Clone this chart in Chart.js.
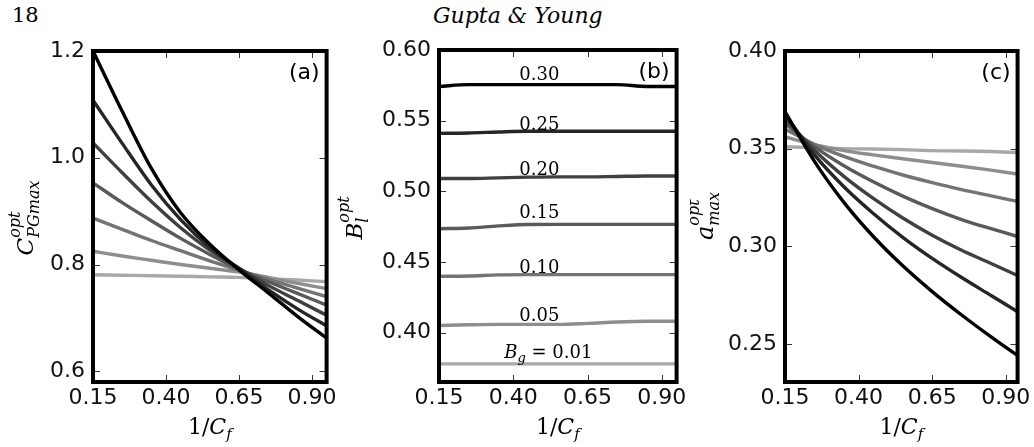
<!DOCTYPE html>
<html><head><meta charset="utf-8">
<script src="https://cdn.jsdelivr.net/npm/chart.js@4.4.1/dist/chart.umd.min.js"></script>
<style>
html,body{margin:0;padding:0;background:#fff;}
body{width:1034px;height:447px;position:relative;overflow:hidden;}
canvas{position:absolute;top:0;}
.hdr{position:absolute;top:5px;line-height:21px;color:#000;white-space:nowrap;}
</style></head><body>
<div class="hdr" style="left:12px;font:21px 'DejaVu Serif';line-height:21px">18</div>
<div class="hdr" style="left:433px;font:italic 22px 'DejaVu Serif';line-height:21px">Gupta &amp; Young</div>
<canvas id="ca" width="340" height="447" style="left:0px"></canvas>
<canvas id="cb" width="355" height="447" style="left:335px"></canvas>
<canvas id="cc" width="344" height="447" style="left:690px"></canvas>
<script>
// ---- data ----
const bgLevels = ['0.01','0.05','0.10','0.15','0.20','0.25','0.30'];
const lineColors = ['#a8a8a8','#8e8e8e','#747474','#5a5a5a','#404040','#262626','#000000'];
const xTickVals = [0.15,0.40,0.65,0.90];

// panel (a): C_PGmax^opt vs 1/C_f
const xA = [0.15,0.25,0.35,0.45,0.55,0.65,0.75,0.85,0.95];
const cpg001 = [0.781,0.780,0.779,0.778,0.777,0.776,0.773,0.771,0.768];
const cpg005 = [0.825,0.816,0.808,0.800,0.793,0.786,0.776,0.765,0.755];
const cpg010 = [0.887,0.866,0.845,0.826,0.807,0.789,0.772,0.756,0.740];
const cpg015 = [0.953,0.916,0.882,0.849,0.819,0.791,0.768,0.746,0.724];
const cpg020 = [1.028,0.972,0.918,0.869,0.827,0.793,0.761,0.733,0.705];
const cpg025 = [1.108,1.027,0.949,0.884,0.832,0.793,0.753,0.717,0.685];
const cpg030 = [1.200,1.087,0.980,0.897,0.838,0.790,0.747,0.703,0.662];
const yTicksA = [0.6,0.8,1.0,1.2];

// panel (b): B_l^opt vs 1/C_f
const xB = [0.15,0.25,0.35,0.45,0.55,0.65,0.75,0.85,0.95];
const bl001 = [0.3778,0.3778,0.3778,0.3778,0.3778,0.3778,0.3778,0.3778,0.3778];
const bl005 = [0.4050,0.4055,0.4058,0.4058,0.4058,0.4065,0.4075,0.4080,0.4080];
const bl010 = [0.4398,0.4400,0.4408,0.4410,0.4410,0.4410,0.4410,0.4410,0.4410];
const bl015 = [0.4735,0.4740,0.4755,0.4765,0.4766,0.4766,0.4766,0.4766,0.4766];
const bl020 = [0.5090,0.5090,0.5095,0.5100,0.5102,0.5102,0.5105,0.5108,0.5108];
const bl025 = [0.5410,0.5413,0.5420,0.5425,0.5425,0.5425,0.5425,0.5425,0.5425];
const bl030 = [0.5742,0.5755,0.5755,0.5755,0.5755,0.5755,0.5755,0.5742,0.5742];
const yTicksB = [0.40,0.45,0.50,0.55,0.60];
const labelTextsB = ['0.01','0.05','0.10','0.15','0.20','0.25','0.30'];
const labelXB = [0.518,0.488,0.488,0.488,0.488,0.488,0.488];
const labelYB = [0.3822,0.4079,0.4425,0.4810,0.5116,0.5434,0.5788];

// panel (c): a_max^opt vs 1/C_f
const xC = [0.15,0.25,0.35,0.45,0.55,0.65,0.75,0.85,0.94];
const am001 = [0.3510,0.3505,0.3500,0.3498,0.3495,0.3490,0.3488,0.3485,0.3480];
const am005 = [0.3560,0.3520,0.3490,0.3468,0.3448,0.3429,0.3410,0.3390,0.3370];
const am010 = [0.3600,0.3522,0.3460,0.3410,0.3365,0.3326,0.3290,0.3258,0.3230];
const am015 = [0.3630,0.3510,0.3412,0.3330,0.3257,0.3193,0.3137,0.3090,0.3050];
const am020 = [0.3655,0.3492,0.3358,0.3245,0.3145,0.3057,0.2980,0.2912,0.2850];
const am025 = [0.3675,0.3468,0.3305,0.3168,0.3046,0.2938,0.2840,0.2748,0.2665];
const am030 = [0.3690,0.3435,0.3225,0.3050,0.2900,0.2768,0.2648,0.2536,0.2440];
const yTicksC = [0.25,0.30,0.35,0.40];

// ---- drawing helpers ----
const SERIF = "'DejaVu Serif'";
function drawParts(ctx, parts, cx, by, rot) {
  ctx.save();
  let x = 0, prevStart = 0; const segs = [];
  for (const p of parts) {
    ctx.font = p.f;
    const pw = ctx.measureText(p.t).width;
    let sx;
    if (p.same) { sx = prevStart; x = Math.max(x, sx + pw); }
    else { sx = x; prevStart = sx; x = sx + pw; }
    segs.push({p, sx});
  }
  const total = x;
  ctx.translate(cx, by);
  if (rot) ctx.rotate(-Math.PI/2);
  ctx.textAlign = 'left'; ctx.textBaseline = 'alphabetic'; ctx.fillStyle = '#000';
  for (const s of segs) { ctx.font = s.p.f; ctx.fillText(s.p.t, s.sx - total/2 + (s.p.dx||0), s.p.dy||0); }
  ctx.restore();
}

const xTitleParts = [
  {t:'1/', f:'22px '+SERIF},
  {t:'C', f:'italic 22px '+SERIF},
  {t:'f', f:'italic 15px '+SERIF, dy:5}
];

function panelPlugin(cfg) {
  return {
    id: 'panel_'+cfg.id,
    afterDraw(chart) {
      const ctx = chart.ctx, a = chart.chartArea;
      const xs = chart.scales.x, ys = chart.scales.y;
      ctx.save();
      // inward ticks on all sides
      ctx.strokeStyle = '#333'; ctx.lineWidth = 1;
      ctx.beginPath();
      for (const v of xTickVals) {
        const px = Math.round(xs.getPixelForValue(v)) + 0.5;
        ctx.moveTo(px, a.top); ctx.lineTo(px, a.top + 7);
        ctx.moveTo(px, a.bottom); ctx.lineTo(px, a.bottom - 7);
      }
      for (const v of cfg.yTicks) {
        const py = Math.round(ys.getPixelForValue(v)) + 0.5;
        ctx.moveTo(a.left, py); ctx.lineTo(a.left + 7, py);
        ctx.moveTo(a.right, py); ctx.lineTo(a.right - 7, py);
      }
      ctx.stroke();
      // frame
      ctx.strokeStyle = '#000'; ctx.lineWidth = 4;
      ctx.strokeRect(a.left, a.top, a.right - a.left, a.bottom - a.top);
      // panel letter
      ctx.fillStyle = '#000'; ctx.font = "22px 'DejaVu Sans'";
      ctx.textAlign = 'right'; ctx.textBaseline = 'alphabetic';
      ctx.fillText(cfg.letter, a.right - 7, a.top + 28);
      ctx.restore();
      // x title
      drawParts(ctx, xTitleParts, (a.left + a.right)/2, 434, false);
      // y title
      drawParts(ctx, cfg.yTitle, cfg.yTitleX, cfg.yTitleY, true);
      // in-plot labels
      if (cfg.labels) cfg.labels(ctx, xs, ys);
    }
  };
}

function makeChart(cfg) {
  const datasets = cfg.series.map((s, i) => ({
    label: 'B_g = ' + bgLevels[i],
    data: cfg.x.map((xv, j) => ({x: xv, y: s[j]})),
    borderColor: lineColors[i],
    borderWidth: 3.4,
    pointRadius: 0,
    fill: false,
    cubicInterpolationMode: 'monotone',
    order: 6 - i
  }));
  return new Chart(document.getElementById(cfg.id), {
    type: 'line',
    data: {datasets},
    options: {
      responsive: false, animation: false, events: [],
      layout: {padding: {left: 0, right: cfg.padR, top: cfg.padT, bottom: 0}},
      plugins: {legend: {display: false}, tooltip: {enabled: false}},
      scales: {
        x: {
          type: 'linear', min: 0.15, max: cfg.xmax,
          grid: {display: false, drawTicks: false}, border: {display: false},
          afterBuildTicks: s => { s.ticks = xTickVals.map(v => ({value: v})); },
          afterFit: s => { s.height = 65; },
          ticks: {font: {family: 'DejaVu Sans', size: 22}, color: '#111', padding: 3,
                  maxRotation: 0, autoSkip: false, callback: v => Number(v).toFixed(2)}
        },
        y: {
          type: 'linear', min: cfg.ymin, max: cfg.ymax,
          grid: {display: false, drawTicks: false}, border: {display: false},
          afterBuildTicks: s => { s.ticks = cfg.yTicks.map(v => ({value: v})); },
          afterFit: s => { s.width = cfg.yW; },
          ticks: {font: {family: 'DejaVu Sans', size: 22}, color: '#111', padding: 8,
                  autoSkip: false, callback: v => Number(v).toFixed(cfg.yDec)}
        }
      }
    },
    plugins: [panelPlugin(cfg)]
  });
}

makeChart({
  id: 'ca', letter: '(a)', x: xA,
  series: [cpg001, cpg005, cpg010, cpg015, cpg020, cpg025, cpg030],
  xmax: 0.95, ymin: 0.58, ymax: 1.2, yTicks: yTicksA, yDec: 1,
  yW: 93, padR: 8, padT: 51,
  yTitleX: 33, yTitleY: 218,
  yTitle: [
    {t:'C', f:'italic 23px '+SERIF},
    {t:'opt', f:'italic 16px '+SERIF, dy:-13},
    {t:'PGmax', f:'italic 16px '+SERIF, dy:6, same:true}
  ]
});

makeChart({
  id: 'cb', letter: '(b)', x: xB,
  series: [bl001, bl005, bl010, bl015, bl020, bl025, bl030],
  xmax: 0.95, ymin: 0.365, ymax: 0.60, yTicks: yTicksB, yDec: 2,
  yW: 104, padR: 12, padT: 50,
  yTitleX: 27, yTitleY: 218,
  yTitle: [
    {t:'B', f:'italic 23px '+SERIF},
    {t:'opt', f:'italic 16px '+SERIF, dy:-13},
    {t:'l', f:'italic 16px '+SERIF, dy:6, same:true}
  ],
  labels: (ctx, xs, ys) => {
    for (let i = 0; i < labelTextsB.length; i++) {
      const px = xs.getPixelForValue(labelXB[i]);
      const py = ys.getPixelForValue(labelYB[i]);
      const parts = i === 0
        ? [{t:'B', f:'italic 18px '+SERIF}, {t:'g', f:'italic 13px '+SERIF, dy:4}, {t:' = ' + labelTextsB[i], f:'18px '+SERIF}]
        : [{t: labelTextsB[i], f:'18px '+SERIF}];
      drawParts(ctx, parts, px, py, false);
    }
  }
});

makeChart({
  id: 'cc', letter: '(c)', x: xC,
  series: [am001, am005, am010, am015, am020, am025, am030],
  xmax: 0.94, ymin: 0.2305, ymax: 0.40, yTicks: yTicksC, yDec: 2,
  yW: 95, padR: 14, padT: 51,
  yTitleX: 23, yTitleY: 216,
  yTitle: [
    {t:'a', f:'italic 24px '+SERIF},
    {t:'opt', f:'italic 16px '+SERIF, dy:-14},
    {t:'max', f:'italic 16px '+SERIF, dy:6, same:true}
  ]
});
</script>
</body></html>
